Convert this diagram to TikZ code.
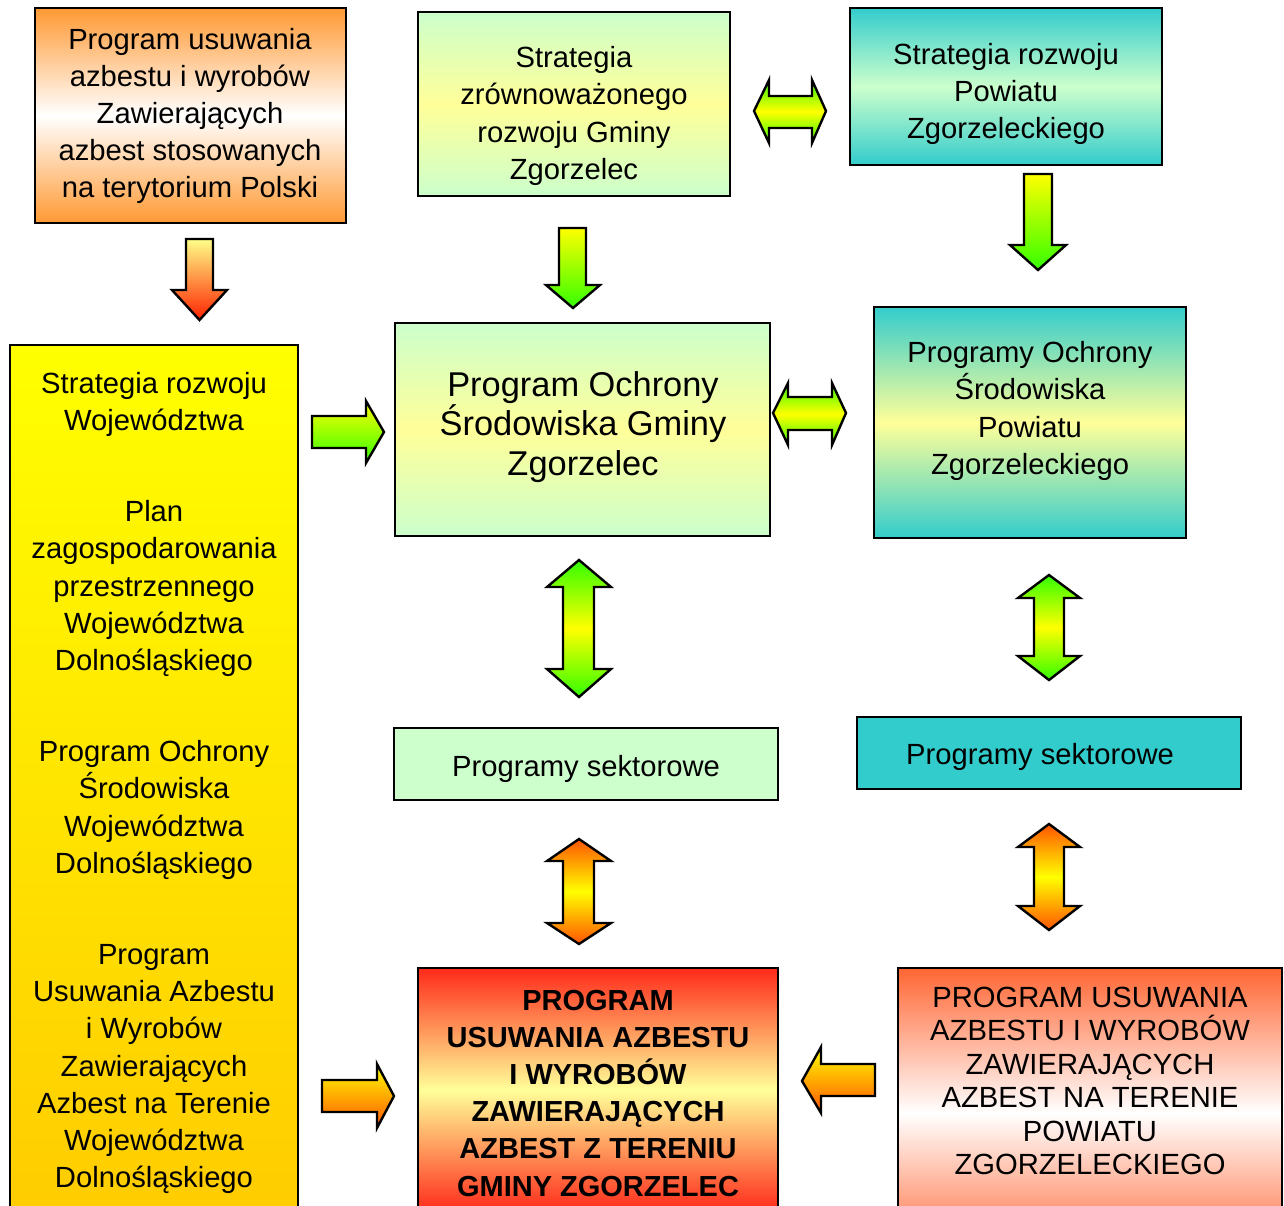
\documentclass[tikz,border=0pt]{standalone}
\usepackage{fontspec}
\setmainfont{Liberation Sans}
\definecolor{orA}{HTML}{FF9933}
\definecolor{lgreen}{HTML}{CCFFCC}
\definecolor{pyel}{HTML}{FFFF99}
\definecolor{tealb}{HTML}{33CCCC}
\definecolor{goldb}{HTML}{FFCC00}
\definecolor{redI}{HTML}{FF2A1A}
\definecolor{redJ}{HTML}{FF6633}
\definecolor{agreen}{HTML}{33FF00}
\definecolor{ared}{HTML}{FF2200}
\definecolor{lyel}{HTML}{FFFF88}
\definecolor{aorange}{HTML}{FF5500}
\begin{document}
\begin{tikzpicture}[x=0.5pt,y=-0.5pt,
  box/.style={draw=black, line width=1pt, rectangle, inner sep=0pt},
  blk/.style={draw=black, line width=1.2pt, line join=miter},
  txt/.style={align=center, inner sep=0pt, font=\fontsize{14.6}{18.6}\selectfont},
  gA/.style={top color=orA, bottom color=orA, middle color=white},
  gB/.style={top color=lgreen, bottom color=lgreen, middle color=pyel},
  gC/.style={top color=tealb, bottom color=tealb, middle color=lgreen},
  gF/.style={top color=tealb, bottom color=tealb, middle color=pyel},
  gD/.style={top color=yellow, bottom color=goldb},
  gI/.style={top color=redI, bottom color=redI, middle color=pyel},
  gJ/.style={top color=redJ, bottom color=redJ, middle color=white},
  ydown/.style={top color=yellow, bottom color=agreen},
  rdown/.style={top color=lyel, bottom color=ared},
  gdbl/.style={top color=agreen, bottom color=agreen, middle color=yellow},
  odbl/.style={top color=aorange, bottom color=aorange, middle color=yellow},
  oright/.style={top color=yellow, bottom color=aorange}]
\useasboundingbox (0,0) rectangle (1284,1205);
\begin{scope}
\clip (0,0) rectangle (1284,1205);
% boxes
\node (A) [box, gA, minimum width=155.5pt, minimum height=107.5pt] at (190.5,115.5) {};
\node (B) [box, gB, minimum width=156pt, minimum height=92pt] at (574,104) {};
\node (C) [box, gC, minimum width=156pt, minimum height=78.5pt] at (1006,86.5) {};
\node (D) [box, gD, minimum width=144pt, minimum height=435pt] at (154,780) {};
\node (E) [box, gB, minimum width=187.5pt, minimum height=106.5pt] at (582.5,429.5) {};
\node (F) [box, gF, minimum width=156pt, minimum height=115.5pt] at (1030,422.5) {};
\node (G) [box, fill=lgreen, minimum width=192pt, minimum height=36pt] at (586,764) {};
\node (H) [box, fill=tealb, minimum width=192pt, minimum height=36pt] at (1049,753) {};
\node (I) [box, gI, minimum width=180pt, minimum height=122pt] at (598,1090) {};
\node (J) [box, gJ, minimum width=192pt, minimum height=145pt] at (1090,1113) {};
% texts
\node (tA) [txt] at (190,116) {Program usuwania\\azbestu i wyrobów\\Zawierających\\azbest stosowanych\\na terytorium Polski};
\node (tB) [txt] at (574,116) {Strategia\\zrównoważonego\\rozwoju Gminy\\Zgorzelec};
\node (tC) [txt] at (1006,94) {Strategia rozwoju\\Powiatu\\Zgorzeleckiego};
\node (tD) [txt] at (154,783) {Strategia rozwoju\\Województwa\\[27pt]Plan\\zagospodarowania\\przestrzennego\\Województwa\\Dolnośląskiego\\[27pt]Program Ochrony\\Środowiska\\Województwa\\Dolnośląskiego\\[27pt]Program\\Usuwania Azbestu\\i Wyrobów\\Zawierających\\Azbest na Terenie\\Województwa\\Dolnośląskiego};
\node (tE) [txt, font=\fontsize{17.2}{19.8}\selectfont] at (583,427) {Program Ochrony\\Środowiska Gminy\\Zgorzelec};
\node (tF) [txt] at (1030,411) {Programy Ochrony\\Środowiska\\Powiatu\\Zgorzeleckiego};
\node (tG) [txt] at (586,769) {Programy sektorowe};
\node (tH) [txt] at (1040,757) {Programy sektorowe};
\node (tI) [txt, font=\fontsize{14.5}{18.6}\selectfont\bfseries] at (598,1093) {PROGRAM\\USUWANIA AZBESTU\\I WYROBÓW\\ZAWIERAJĄCYCH\\AZBEST Z TERENIU\\GMINY ZGORZELEC};
\node (tJ) [txt, font=\fontsize{14.6}{16.7}\selectfont] at (1090,1081) {PROGRAM USUWANIA\\AZBESTU I WYROBÓW\\ZAWIERAJĄCYCH\\AZBEST NA TERENIE\\POWIATU\\ZGORZELECKIEGO};
% block arrows
% A -> D
\path[blk, rdown] (186,239) -- (213,239) -- (213,290) -- (227,290) -- (199.5,320) -- (172,290) -- (186,290) -- cycle;
% B -> E
\path[blk, ydown] (559,228) -- (586,228) -- (586,285) -- (600,285) -- (573,308) -- (546,285) -- (559,285) -- cycle;
% C -> F
\path[blk, ydown] (1024,174) -- (1052,174) -- (1052,245) -- (1066,245) -- (1038,270) -- (1010,245) -- (1024,245) -- cycle;
% B <-> C
\path[blk, gdbl] (754,111) -- (769,80) -- (769,96) -- (812,96) -- (812,80) -- (826,111) -- (812,143) -- (812,128) -- (769,128) -- (769,143) -- cycle;
% D -> E
\path[blk, ydown] (312,416) -- (366,416) -- (366,401) -- (384,432) -- (366,463) -- (366,448) -- (312,448) -- cycle;
% E <-> F
\path[blk, gdbl] (773,413) -- (788,383) -- (788,397) -- (832,397) -- (832,383) -- (846,413) -- (832,445) -- (832,430) -- (788,430) -- (788,445) -- cycle;
% E <-> G
\path[blk, gdbl] (579,560) -- (611,587) -- (594,587) -- (594,669) -- (611,669) -- (579,697) -- (547,669) -- (563,669) -- (563,587) -- (547,587) -- cycle;
% F <-> H
\path[blk, gdbl] (1049,575) -- (1080,598) -- (1064,598) -- (1064,656) -- (1080,656) -- (1049,680) -- (1018,656) -- (1034,656) -- (1034,598) -- (1018,598) -- cycle;
% G <-> I
\path[blk, odbl] (579,839) -- (611,861) -- (594,861) -- (594,923) -- (611,923) -- (579,944) -- (547,923) -- (563,923) -- (563,861) -- (547,861) -- cycle;
% H <-> J
\path[blk, odbl] (1049,824) -- (1080,847) -- (1064,847) -- (1064,906) -- (1080,906) -- (1049,930) -- (1018,906) -- (1034,906) -- (1034,847) -- (1018,847) -- cycle;
% D -> I
\path[blk, oright] (322,1080) -- (377,1080) -- (377,1064) -- (394,1096) -- (377,1128) -- (377,1112) -- (322,1112) -- cycle;
% J -> I
\path[blk, oright] (875,1064) -- (821,1064) -- (821,1047) -- (802,1081) -- (821,1113) -- (821,1096) -- (875,1096) -- cycle;
\end{scope}
\end{tikzpicture}
\end{document}
